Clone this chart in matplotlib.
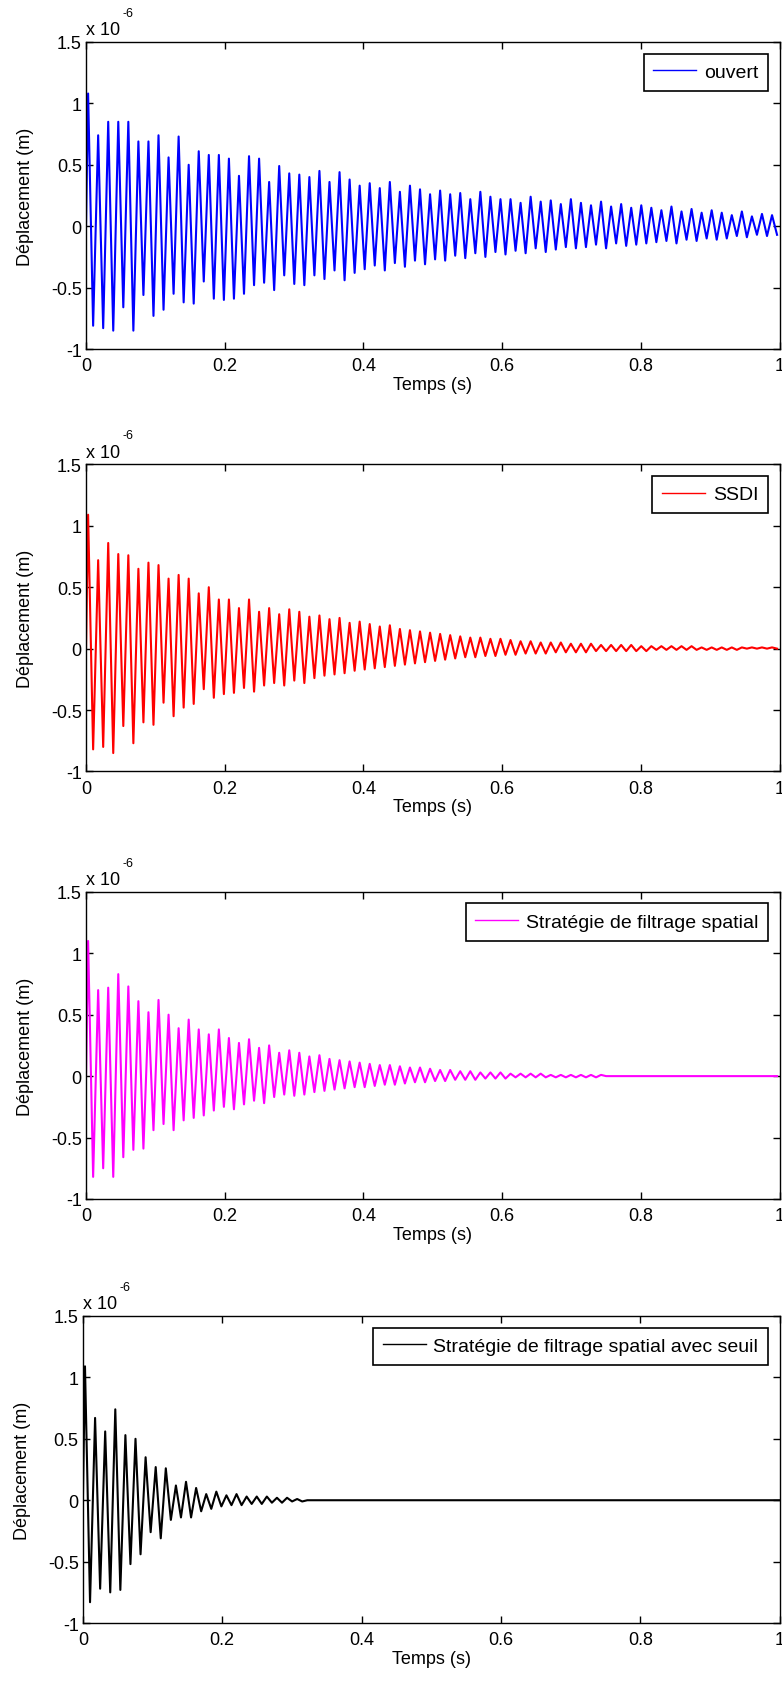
import numpy as np
import matplotlib
matplotlib.use("Agg")
import matplotlib.pyplot as plt
from matplotlib.ticker import FuncFormatter

plt.rcParams['font.family'] = ['Liberation Sans', 'DejaVu Sans']
plt.rcParams['axes.unicode_minus'] = False

# Displacement peaks, in units of 1e-6 m
# one positive and one negative extreme per oscillation cycle
half_period = 0.00725   # s, between a crest and the next trough
t_start = 0.003         # s, time of the first crest

ouvert_pos = [1.08, 0.74, 0.85, 0.85, 0.85, 0.69, 0.69, 0.74, 0.56, 0.73, 0.50, 0.61, 0.58, 0.58,
              0.55, 0.41, 0.57, 0.55, 0.36, 0.49, 0.43,
              0.42, 0.40, 0.45, 0.36, 0.44, 0.38, 0.33,
              0.35, 0.31, 0.36, 0.28, 0.33, 0.30, 0.26,
              0.29, 0.26, 0.27, 0.22, 0.28, 0.24, 0.22,
              0.22, 0.19, 0.24, 0.20, 0.21, 0.18, 0.22,
              0.19, 0.17, 0.20, 0.16, 0.18, 0.15, 0.17,
              0.15, 0.13, 0.16, 0.12, 0.14, 0.11, 0.13,
              0.11, 0.09, 0.12, 0.08, 0.10, 0.09]
ouvert_neg = [-0.81, -0.83, -0.85, -0.66, -0.85, -0.56, -0.73, -0.68, -0.55, -0.62, -0.63, -0.45, -0.59, -0.60,
              -0.59, -0.55, -0.48, -0.46, -0.52, -0.40, -0.47,
              -0.48, -0.40, -0.43, -0.36, -0.44, -0.38, -0.35,
              -0.32, -0.36, -0.30, -0.33, -0.28, -0.31, -0.27,
              -0.28, -0.24, -0.26, -0.22, -0.25, -0.21, -0.23,
              -0.20, -0.22, -0.18, -0.21, -0.19, -0.17, -0.18,
              -0.17, -0.15, -0.18, -0.14, -0.16, -0.15, -0.14,
              -0.13, -0.12, -0.14, -0.11, -0.12, -0.10, -0.11,
              -0.10, -0.08, -0.09, -0.07, -0.08, -0.07]

ssdi_pos = [1.09, 0.72, 0.86, 0.77, 0.76, 0.65, 0.70, 0.68, 0.57, 0.60, 0.57, 0.45, 0.50, 0.40,
            0.40, 0.33, 0.40, 0.30, 0.33, 0.28, 0.32,
            0.30, 0.26, 0.27, 0.24, 0.25, 0.21, 0.22,
            0.20, 0.18, 0.19, 0.16, 0.15, 0.14, 0.13,
            0.12, 0.11, 0.10, 0.09, 0.09, 0.08, 0.08,
            0.07, 0.06, 0.06, 0.05, 0.05, 0.05, 0.04,
            0.04, 0.04, 0.03, 0.03, 0.03, 0.03, 0.02,
            0.02, 0.02, 0.02, 0.02, 0.02, 0.01, 0.01,
            0.01, 0.01, 0.01, 0.01, 0.01, 0.01]
ssdi_neg = [-0.82, -0.80, -0.85, -0.63, -0.77, -0.60, -0.62, -0.44, -0.55, -0.48, -0.45, -0.33, -0.40, -0.37,
            -0.36, -0.32, -0.35, -0.30, -0.28, -0.30, -0.26,
            -0.28, -0.24, -0.22, -0.21, -0.20, -0.18, -0.17,
            -0.16, -0.15, -0.14, -0.13, -0.12, -0.11, -0.10,
            -0.09, -0.08, -0.07, -0.07, -0.06, -0.06, -0.05,
            -0.05, -0.04, -0.04, -0.04, -0.03, -0.03, -0.03,
            -0.03, -0.02, -0.02, -0.02, -0.02, -0.02, -0.02,
            -0.01, -0.01, -0.01, -0.01, -0.01, -0.01, -0.01,
            -0.01, -0.01, 0.00, 0.00, 0.00, 0.00]

spatial_pos = [1.10, 0.70, 0.72, 0.83, 0.73, 0.61, 0.52, 0.62, 0.50, 0.39, 0.46, 0.38, 0.34, 0.38,
               0.31, 0.27, 0.30, 0.23, 0.25, 0.19, 0.21,
               0.19, 0.16, 0.17, 0.14, 0.13, 0.12, 0.11,
               0.10, 0.09, 0.09, 0.08, 0.07, 0.07, 0.06,
               0.05, 0.05, 0.04, 0.04, 0.03, 0.03, 0.03,
               0.02, 0.02, 0.02, 0.02, 0.01, 0.01, 0.01,
               0.01, 0.01, 0.01, 0.00, 0.00, 0.00, 0.00,
               0.00, 0.00, 0.00, 0.00, 0.00, 0.00, 0.00,
               0.00, 0.00, 0.00, 0.00, 0.00, 0.00]
spatial_neg = [-0.82, -0.75, -0.82, -0.66, -0.60, -0.59, -0.44, -0.39, -0.44, -0.36, -0.34, -0.32, -0.28, -0.25,
               -0.27, -0.23, -0.20, -0.22, -0.17, -0.15, -0.16,
               -0.15, -0.13, -0.12, -0.11, -0.10, -0.09, -0.09,
               -0.08, -0.07, -0.07, -0.06, -0.05, -0.05, -0.04,
               -0.04, -0.03, -0.03, -0.03, -0.02, -0.02, -0.02,
               -0.01, -0.01, -0.01, -0.01, -0.01, -0.01, -0.01,
               -0.01, -0.01, 0.00, 0.00, 0.00, 0.00, 0.00,
               0.00, 0.00, 0.00, 0.00, 0.00, 0.00, 0.00,
               0.00, 0.00, 0.00, 0.00, 0.00, 0.00]

seuil_pos = [1.09, 0.67, 0.56, 0.74, 0.53, 0.50, 0.35, 0.27, 0.26, 0.12, 0.15,
             0.10, 0.05, 0.07, 0.04, 0.05, 0.03, 0.03, 0.03, 0.02, 0.02, 0.01]
seuil_neg = [-0.83, -0.72, -0.75, -0.73, -0.52, -0.44, -0.26, -0.31, -0.16, -0.14, -0.14,
             -0.09, -0.07, -0.05, -0.04, -0.04, -0.03, -0.03, -0.02, -0.02, -0.01, -0.01]
seuil_end_t = 1.0       # flat at zero after the threshold cut

labels = ['ouvert', 'SSDI', 'Stratégie de filtrage spatial',
          'Stratégie de filtrage spatial avec seuil']
colors = ['#0000ff', '#ff0000', '#ff00ff', '#000000']
x_ticks = [0, 0.2, 0.4, 0.6, 0.8, 1]
y_ticks = [-1, -0.5, 0, 0.5, 1, 1.5]


def build_trace(pos, neg, end_t=None):
    vals = [0.0]
    for p, n in zip(pos, neg):
        vals += [p, n]
    vals = np.array(vals)
    t = np.concatenate([[0.0], t_start + np.arange(len(vals) - 1) * half_period])
    if end_t is not None:
        t = np.append(t, [t[-1] + half_period, end_t])
        vals = np.append(vals, [0.0, 0.0])
    return t, vals


traces = [build_trace(ouvert_pos, ouvert_neg),
          build_trace(ssdi_pos, ssdi_neg),
          build_trace(spatial_pos, spatial_neg),
          build_trace(seuil_pos, seuil_neg, seuil_end_t)]

fig = plt.figure(figsize=(7.82, 16.83), dpi=100)
# axes boxes in figure fractions (left, bottom, width, height)
boxes = [(0.110, 0.792, 0.887, 0.1825),
         (0.110, 0.541, 0.887, 0.1825),
         (0.110, 0.287, 0.887, 0.1825),
         (0.106, 0.035, 0.891, 0.1825)]

fmt = FuncFormatter(lambda v, pos: '%g' % v)
fs = 13

for (t, y), lab, col, box in zip(traces, labels, colors, boxes):
    ax = fig.add_axes(box)
    ax.plot(t, y, color=col, lw=1.5, label=lab)
    ax.set_xlim(0, 1)
    ax.set_ylim(-1, 1.5)
    ax.set_xticks(x_ticks)
    ax.set_yticks(y_ticks)
    ax.xaxis.set_major_formatter(fmt)
    ax.yaxis.set_major_formatter(fmt)
    ax.tick_params(direction='in', top=True, right=True, length=5, width=1,
                   labelsize=fs)
    ax.tick_params(axis='x', pad=6)
    ax.tick_params(axis='y', pad=3)
    for s in ax.spines.values():
        s.set_linewidth(1.0)
    ax.set_xlabel('Temps (s)', fontsize=fs, labelpad=1)
    ax.set_ylabel('Déplacement (m)', fontsize=fs, labelpad=12)
    ax.text(0.0, 1.012, 'x 10', transform=ax.transAxes, fontsize=fs,
            ha='left', va='bottom')
    ax.text(0.053, 1.075, '-6', transform=ax.transAxes, fontsize=9,
            ha='left', va='bottom')
    leg = ax.legend(loc='upper right', fontsize=14, frameon=True, fancybox=False,
                    handlelength=2.2, handletextpad=0.4, borderpad=0.5,
                    borderaxespad=0.6)
    leg.get_frame().set_edgecolor('black')
    leg.get_frame().set_linewidth(1.2)
    leg.get_frame().set_alpha(1)
    for line in leg.get_lines():
        line.set_linewidth(1.0)

fig.savefig('out.png', dpi=100)
